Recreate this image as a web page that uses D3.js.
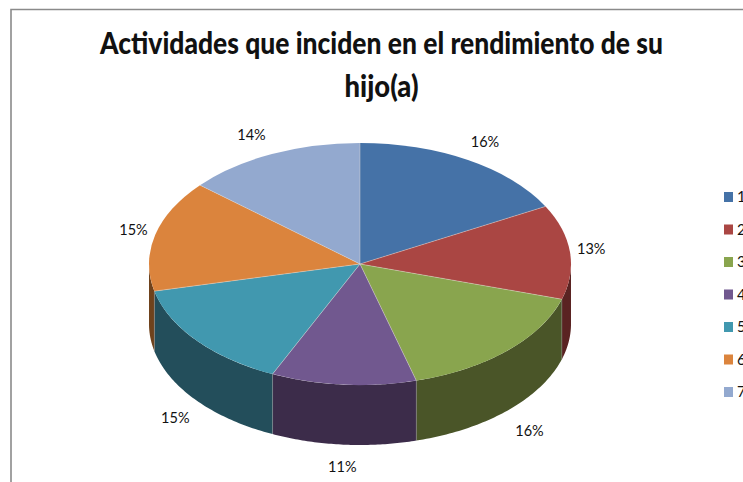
<!DOCTYPE html>
<html><head><meta charset="utf-8">
<script src="https://cdn.jsdelivr.net/npm/d3@7/dist/d3.min.js"></script>
<style>html,body{margin:0;padding:0;background:#fff;overflow:hidden}svg{display:block}
text{font-family:Lato,"Open Sans","Noto Sans",sans-serif;fill:#111}</style>
</head><body>
<script>
const categories = ["1","2","3","4","5","6","7"];
const sliceValues = [17.1,12.6,16.0,11.1,14.6,14.9,13.7];
const sliceLabels = ["16%","13%","16%","11%","15%","15%","14%"];
const titleLines = ["Actividades que inciden en el rendimiento de su","hijo(a)"];
const topColors = ["#4572a7","#aa4643","#89a54e","#71588f","#4198af","#db843d","#93a9cf"];
const sideColors = ["#2b4566","#5a2322","#4a5528","#3c2c4a","#234e5b","#6f421c","#56637a"];

const W=743,H=482,cx=360,cy=264,rx=211,ry=121,depth=60;
const labelNudgeX=[3,-6,3,1,0,5,-9], labelNudgeY=[1,0,2,-2,0,1,1];
const svg=d3.select("body").append("svg").attr("width",W).attr("height",H);

svg.append("path").attr("d",`M11,${H}V9.5H${W}`).attr("fill","none").attr("stroke","#8a8a8a").attr("stroke-width",1.6);

const t=svg.append("g");
const titleWidths=[563,74], titleBase=[54,97];
titleLines.forEach((s,i)=>t.append("text").attr("x",381.5).attr("y",titleBase[i])
  .attr("text-anchor","middle").attr("font-size",31).attr("font-weight",900)
  .attr("textLength",titleWidths[i]).attr("lengthAdjust","spacingAndGlyphs").text(s));

const pie=d3.pie().sort(null).value(d=>d);
const arcs=pie(sliceValues);
const px=a=>cx+rx*Math.sin(a), py=a=>cy-ry*Math.cos(a);

// side walls (front half of the rim only)
const wall=svg.append("g");
const lo=Math.PI/2, hi=3*Math.PI/2;
const line=d3.line().x(d=>d[0]).y(d=>d[1]);
arcs.forEach((d,i)=>{
  const a0=Math.max(d.startAngle,lo), a1=Math.min(d.endAngle,hi);
  if(a1<=a0) return;
  const steps=d3.range(0,61).map(k=>a0+(a1-a0)*k/60);
  const top=steps.map(a=>[px(a),py(a)]);
  const bot=steps.slice().reverse().map(a=>[px(a),py(a)+depth]);
  wall.append("path").attr("d",line(top.concat(bot))+"Z").attr("fill",sideColors[i]);
});
// light seams on the wall at slice boundaries
arcs.forEach(d=>{
  if(d.startAngle>lo && d.startAngle<hi){
    wall.append("line").attr("x1",px(d.startAngle)).attr("x2",px(d.startAngle))
      .attr("y1",py(d.startAngle)).attr("y2",py(d.startAngle)+depth)
      .attr("stroke","#9a9a9a").attr("stroke-opacity",.55).attr("stroke-width",.75);
  }
});

// top face: circular arcs squashed into an ellipse
const arc=d3.arc().innerRadius(0).outerRadius(rx);
const face=svg.append("g").attr("transform",`translate(${cx},${cy}) scale(1,${ry/rx})`);
face.selectAll("path").data(arcs).join("path").attr("d",arc).attr("fill",(d,i)=>topColors[i]);
const seams=svg.append("g");
arcs.forEach(d=>seams.append("line").attr("x1",cx).attr("y1",cy).attr("x2",px(d.startAngle)).attr("y2",py(d.startAngle))
  .attr("stroke","#e8e0d8").attr("stroke-opacity",.6).attr("stroke-width",.7));

// data labels
const lab=svg.append("g");
arcs.forEach((d,i)=>{
  const m=(d.startAngle+d.endAngle)/2;
  const front=Math.cos(m)<-0.3;
  lab.append("text").attr("x",cx+rx*1.13*Math.sin(m)+labelNudgeX[i])
    .attr("y",cy-ry*1.17*Math.cos(m)+(front?depth+5:0)+4+labelNudgeY[i])
    .attr("text-anchor","middle").attr("font-size",14.5).text(sliceLabels[i]);
});

// legend
const legendY=d3.scalePoint().domain(categories).range([197,392]);
const lg=svg.append("g");
categories.forEach((c,i)=>{
  lg.append("rect").attr("x",724).attr("y",legendY(c)-5).attr("width",9).attr("height",10).attr("fill",topColors[i]);
  lg.append("text").attr("x",737).attr("y",legendY(c)+5).attr("font-size",15).text(c);
});
</script>
</body></html>
